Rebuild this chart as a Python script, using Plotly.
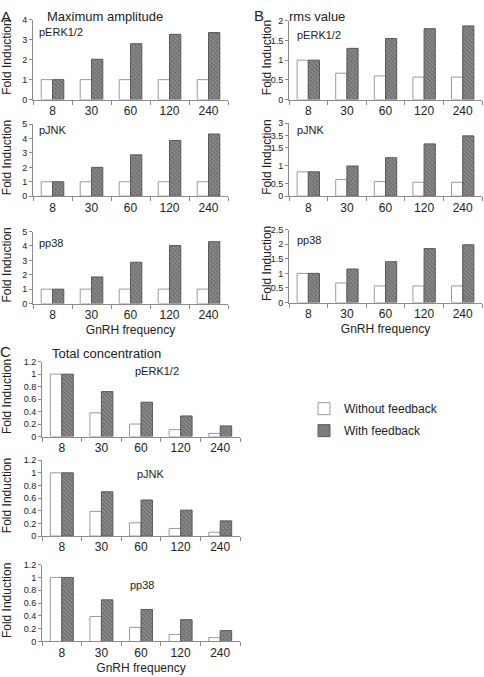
import plotly.graph_objects as go

freqs = ["8", "30", "60", "120", "240"]

# Panel A: Maximum amplitude
A_erk_wo = [1, 1, 1, 1, 1]
A_erk_w = [1, 2.02, 2.8, 3.27, 3.36]
A_jnk_wo = [1, 1, 1, 1, 1]
A_jnk_w = [1, 2.0, 2.87, 3.87, 4.32]
A_p38_wo = [1, 1, 1, 1, 1]
A_p38_w = [1, 1.85, 2.87, 4.03, 4.3]

# Panel B: rms value
B_erk_wo = [1, 0.67, 0.6, 0.57, 0.57]
B_erk_w = [1, 1.3, 1.55, 1.8, 1.87]
B_jnk_wo = [1, 0.68, 0.6, 0.57, 0.57]
B_jnk_w = [1, 1.24, 1.58, 2.15, 2.48]
B_p38_wo = [1, 0.67, 0.57, 0.57, 0.57]
B_p38_w = [1, 1.15, 1.4, 1.85, 1.98]

# Panel C: Total concentration
C_erk_wo = [1, 0.38, 0.2, 0.11, 0.05]
C_erk_w = [1, 0.72, 0.55, 0.33, 0.17]
C_jnk_wo = [1, 0.39, 0.21, 0.12, 0.06]
C_jnk_w = [1, 0.7, 0.57, 0.41, 0.24]
C_p38_wo = [1, 0.39, 0.22, 0.11, 0.06]
C_p38_w = [1, 0.65, 0.5, 0.34, 0.17]

W, H = 484, 677
FONT = "Liberation Sans, Arial, sans-serif"
AX = "#8c8c8c"

panels = [
    # (wo, w, xdom_px, ydom_px(top,bottom), yrange, tickvals, ticktext, label, label_xy, xtitle, xfont)
    (A_erk_wo, A_erk_w, (33, 228), (15, 96), 4, [0, 1, 2, 3, 4], None, "pERK1/2", (37, 27), False, 12),
    (A_jnk_wo, A_jnk_w, (33, 228), (121, 194), 5, [0, 1, 2, 3, 4, 5], None, "pJNK", (37, 127), False, 12),
    (A_p38_wo, A_p38_w, (33, 228), (230, 303), 5, [0, 1, 2, 3, 4, 5], None, "pp38", (37, 242), True, 12),
    (B_erk_wo, B_erk_w, (289, 482), (16, 96), 2, [0, 0.5, 1, 1.5, 2], ["0", "0.5", "1", "1.5", "2"], "pERK1/2", (295, 30), False, 12),
    (B_jnk_wo, B_jnk_w, (289, 482), (120, 194), 3, [0, 0.5, 1.25, 2, 2.5, 3], ["0", "0.5", "1", "1.5", "3.5", "3"], "pJNK", (295, 127), False, 12),
    (B_p38_wo, B_p38_w, (289, 482), (228, 302), 2.5, [0, 0.5, 1, 1.5, 2, 2.5], ["0", "0.5", "1", "1.5", "2", "2.5"], "pp38", (295, 239), True, 12),
    (C_erk_wo, C_erk_w, (42, 240), (362, 438), 1.2, [0, 0.2, 0.4, 0.6, 0.8, 1, 1.2], ["0", "0.2", "0.4", "0.6", "0.8", "1", "1.2"], "pERK1/2", (133, 371), False, 12),
    (C_jnk_wo, C_jnk_w, (42, 240), (462, 539), 1.2, [0, 0.2, 0.4, 0.6, 0.8, 1, 1.2], ["0", "0.2", "0.4", "0.6", "0.8", "1", "1.2"], "pJNK", (135, 476), False, 12),
    (C_p38_wo, C_p38_w, (42, 240), (568, 646), 1.2, [0, 0.2, 0.4, 0.6, 0.8, 1, 1.2], ["0", "0.2", "0.4", "0.6", "0.8", "1", "1.2"], "pp38", (128, 589), True, 12),
]

fig = go.Figure()
annotations = []
layout = {}

for i, (wo, w, xd, yd, ymax, tv, tt, lab, lxy, xtitle, xf) in enumerate(panels):
    n = i + 1
    xa = "x" if n == 1 else f"x{n}"
    ya = "y" if n == 1 else f"y{n}"
    fig.add_trace(go.Bar(
        x=freqs, y=wo, xaxis=xa, yaxis=ya, name="Without feedback",
        marker=dict(color="white", line=dict(color="#9a9a9a", width=1)),
        showlegend=(n == 1), legendgroup="wo",
    ))
    fig.add_trace(go.Bar(
        x=freqs, y=w, xaxis=xa, yaxis=ya, name="With feedback",
        marker=dict(color="#7a7a7a",
                    pattern=dict(shape="\\", fgcolor="#505050", bgcolor="#8a8a8a", size=3, solidity=0.45),
                    line=dict(color="#5a5a5a", width=1)),
        showlegend=(n == 1), legendgroup="w",
    ))
    xk = "xaxis" if n == 1 else f"xaxis{n}"
    yk = "yaxis" if n == 1 else f"yaxis{n}"
    layout[xk] = dict(
        domain=[xd[0] / W, xd[1] / W], anchor=ya, type="category",
        showline=True, linecolor=AX, linewidth=1, ticks="outside", tickson="boundaries",
        ticklen=4, tickcolor=AX, tickfont=dict(size=xf, color="#222", family=FONT),
        showgrid=False, zeroline=False, fixedrange=True,
        title=dict(text="GnRH frequency" if xtitle else "", font=dict(size=12, color="#222", family=FONT), standoff=4),
    )
    ydict = dict(
        domain=[1 - yd[1] / H, 1 - yd[0] / H], anchor=xa, range=[0, ymax],
        showline=True, linecolor=AX, linewidth=1, ticks="outside", ticklen=3, tickcolor=AX,
        tickvals=tv, tickfont=dict(size=9, color="#222", family=FONT),
        showgrid=False, zeroline=False, fixedrange=True,
    )
    if tt is not None:
        ydict["ticktext"] = tt
    layout[yk] = ydict
    annotations.append(dict(text=lab, xref="paper", yref="paper", x=lxy[0] / W, y=1 - lxy[1] / H,
                            xanchor="left", yanchor="middle", showarrow=False,
                            font=dict(size=11, color="#222", family=FONT)))
    # y axis title
    yt_x = 7 if xd[0] < 100 else 267
    annotations.append(dict(text="Fold Induction", xref="paper", yref="paper", x=yt_x / W,
                            y=1 - ((yd[0] + yd[1]) / 2 - 2) / H, textangle=-90,
                            xanchor="center", yanchor="middle", showarrow=False,
                            font=dict(size=12, color="#222", family=FONT)))

# Panel headings
heads = [("A", 6, 12, 15), ("Maximum amplitude", 45, 12, 13), ("B", 259, 11, 15), ("rms value", 287, 12, 13),
         ("C", 5, 352, 15), ("Total concentration", 50, 354, 13)]
for t, x, y, s in heads:
    annotations.append(dict(text=t, xref="paper", yref="paper", x=x / W, y=1 - y / H,
                            xanchor="center" if len(t) == 1 else "left", yanchor="middle", showarrow=False,
                            font=dict(size=s, color="#222", family=FONT)))

fig.update_layout(
    width=W, height=H, margin=dict(l=0, r=0, t=0, b=0),
    paper_bgcolor="white", plot_bgcolor="white",
    barmode="group", bargap=0.42, bargroupgap=0,
    font=dict(family=FONT, color="#222"),
    annotations=annotations,
    legend=dict(x=304 / W, y=1 - 395 / H, xanchor="left", yanchor="top",
                font=dict(size=12, color="#222", family=FONT), tracegroupgap=3,
                bgcolor="rgba(0,0,0,0)"),
    **layout,
)

fig.write_html("out.html", config={"displayModeBar": False},
               post_script="document.body.style.margin='0';document.body.style.overflow='hidden';")
